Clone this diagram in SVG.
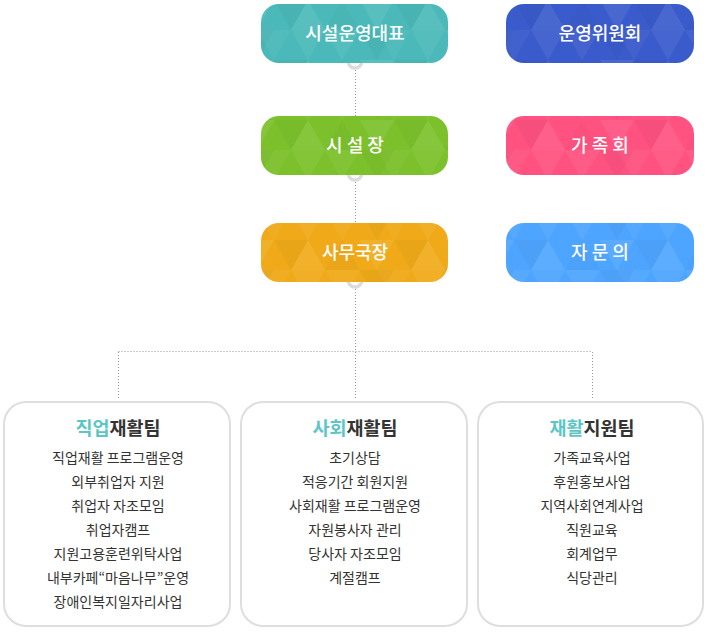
<svg xmlns="http://www.w3.org/2000/svg" width="710" height="632" viewBox="0 0 710 632">
<style>
.bt{font-family:"Noto Sans CJK KR","Noto Sans",sans-serif;font-size:18px;fill:#fff;text-anchor:middle;font-weight:500}
.tt{font-family:"Noto Sans CJK KR","Noto Sans",sans-serif;font-size:18.5px;fill:#333;text-anchor:middle;font-weight:700}
.tt .hl{fill:#5cc6c6}
.it{font-family:"Noto Sans CJK KR","Noto Sans",sans-serif;font-size:14px;fill:#333;text-anchor:middle}
.dot{stroke:#999;stroke-width:1;stroke-dasharray:1 2;fill:none}
.ring{fill:none;stroke:#dcdcdc;stroke-width:3.5}
.team{fill:#fff;stroke:#dedede;stroke-width:2}
</style>
<defs>
<pattern id="tri" x="0" y="0" width="120" height="60" patternUnits="userSpaceOnUse">
<polygon points="0,0 34,0 17,30" fill="#fff" fill-opacity="0.07"/>
<polygon points="34,0 68,0 51,30" fill="#000" fill-opacity="0.03"/>
<polygon points="51,30 85,30 68,0" fill="#fff" fill-opacity="0.08"/>
<polygon points="0,30 17,60 34,30" fill="#000" fill-opacity="0.03"/>
<polygon points="51,30 68,60 85,30" fill="#fff" fill-opacity="0.06"/>
<polygon points="85,30 102,0 120,30" fill="#000" fill-opacity="0.025"/>
<polygon points="17,30 51,30 34,60" fill="#fff" fill-opacity="0.04"/>
<polygon points="85,30 120,30 102,60" fill="#fff" fill-opacity="0.05"/>
</pattern>
</defs>
<g id="connectors">
<circle class="ring" cx="355" cy="61" r="7"/>
<circle class="ring" cx="355" cy="173" r="7"/>
<circle class="ring" cx="355" cy="280" r="7"/>
<line class="dot" x1="355.5" y1="70" x2="355.5" y2="116"/>
<line class="dot" x1="355.5" y1="182" x2="355.5" y2="223"/>
<line class="dot" x1="355.5" y1="289" x2="355.5" y2="400"/>
<line class="dot" x1="118.5" y1="351.5" x2="592.5" y2="351.5"/>
<line class="dot" x1="118.5" y1="352" x2="118.5" y2="400"/>
<line class="dot" x1="592.5" y1="352" x2="592.5" y2="400"/>
</g>
<g id="n-ceo">
<rect x="261" y="4" width="187" height="59" rx="18" fill="#4bb9b9"/>
<rect x="261" y="4" width="187" height="59" rx="18" fill="url(#tri)"/>
<text class="bt" x="355" y="40">시설운영대표</text>
</g>
<g id="n-committee">
<rect x="506" y="4" width="188" height="59" rx="18" fill="#3a5bcb"/>
<rect x="506" y="4" width="188" height="59" rx="18" fill="url(#tri)"/>
<text class="bt" x="600" y="40">운영위원회</text>
</g>
<g id="n-director">
<rect x="261" y="116" width="187" height="59" rx="18" fill="#7cc12c"/>
<rect x="261" y="116" width="187" height="59" rx="18" fill="url(#tri)"/>
<text class="bt" x="355" y="152">시 설 장</text>
</g>
<g id="n-family">
<rect x="506" y="116" width="188" height="59" rx="18" fill="#ff5281"/>
<rect x="506" y="116" width="188" height="59" rx="18" fill="url(#tri)"/>
<text class="bt" x="600" y="152">가 족 회</text>
</g>
<g id="n-secretary">
<rect x="261" y="223" width="187" height="59" rx="18" fill="#f0aa19"/>
<rect x="261" y="223" width="187" height="59" rx="18" fill="url(#tri)"/>
<text class="bt" x="355" y="259">사무국장</text>
</g>
<g id="n-advisory">
<rect x="506" y="223" width="188" height="59" rx="18" fill="#4ea5ff"/>
<rect x="506" y="223" width="188" height="59" rx="18" fill="url(#tri)"/>
<text class="bt" x="600" y="259">자 문 의</text>
</g>
<g id="n-job">
<rect class="team" x="4" y="402" width="226" height="224" rx="22"/>
<text class="tt" x="118" y="434.5"><tspan class="hl">직업</tspan>재활팀</text>
<text class="it" x="118" y="463">직업재활 프로그램운영</text>
<text class="it" x="118" y="487">외부취업자 지원</text>
<text class="it" x="118" y="511">취업자 자조모임</text>
<text class="it" x="118" y="535">취업자캠프</text>
<text class="it" x="118" y="559">지원고용훈련위탁사업</text>
<text class="it" x="118" y="583">내부카페“마음나무”운영</text>
<text class="it" x="118" y="607">장애인복지일자리사업</text>
</g>
<g id="n-social">
<rect class="team" x="241" y="402" width="226" height="224" rx="22"/>
<text class="tt" x="355" y="434.5"><tspan class="hl">사회</tspan>재활팀</text>
<text class="it" x="355" y="463">초기상담</text>
<text class="it" x="355" y="487">적응기간 회원지원</text>
<text class="it" x="355" y="511">사회재활 프로그램운영</text>
<text class="it" x="355" y="535">자원봉사자 관리</text>
<text class="it" x="355" y="559">당사자 자조모임</text>
<text class="it" x="355" y="583">계절캠프</text>
</g>
<g id="n-support">
<rect class="team" x="478" y="402" width="225" height="224" rx="22"/>
<text class="tt" x="592" y="434.5"><tspan class="hl">재활</tspan>지원팀</text>
<text class="it" x="592" y="463">가족교육사업</text>
<text class="it" x="592" y="487">후원홍보사업</text>
<text class="it" x="592" y="511">지역사회연계사업</text>
<text class="it" x="592" y="535">직원교육</text>
<text class="it" x="592" y="559">회계업무</text>
<text class="it" x="592" y="583">식당관리</text>
</g>
</svg>
